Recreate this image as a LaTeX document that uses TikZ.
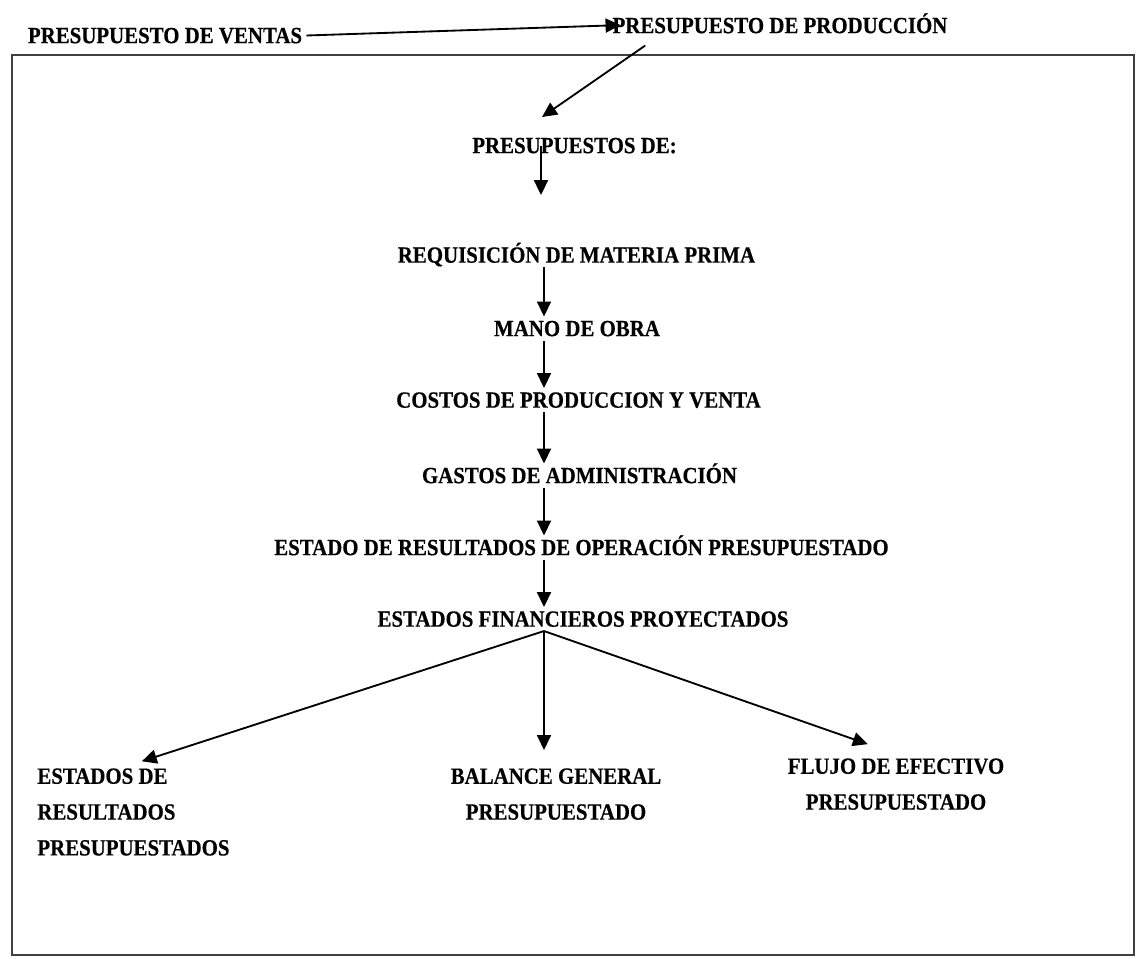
\documentclass[tikz,border=0pt]{standalone}
\usepackage{fontspec}
\setmainfont{Liberation Serif}[FakeStretch=0.9,BoldFeatures={FakeBold=0.4}]
\usetikzlibrary{
	calc,
	arrows.meta,
	positioning
	}
\tikzset{font={\fontsize{13.2pt}{15}\selectfont\bfseries}}
\tikzstyle{texto-std}=[inner sep=2.3pt,text height=8.7pt,text depth=0pt]
\tikzstyle{texto-multi}=[inner sep=2.3pt,font={\fontsize{13.2pt}{20.4}\selectfont\bfseries}]
\tikzstyle{flecha-std}=[line width=1.05pt,-{Triangle[length=8.5pt,width=8pt]}]
\tikzstyle{marco-std}=[draw=black!75,line width=0.8pt]

\begin{document}
\begin{tikzpicture}[x=0.02cm,y=-0.02cm]
        \useasboundingbox (0,0) rectangle (1137,958);
        \draw[marco-std] (12,55) rectangle (1134,955);
        %
        \node[texto-std] (p-ventas) at (165,35.5) {PRESUPUESTO DE VENTAS};
        \node[texto-std] (p-prod) at (780,25.5) {PRESUPUESTO DE PRODUCCIÓN};
        \node[texto-std] (p-des) at (574.5,145.5) {PRESUPUESTOS DE:};
        \node[texto-std] (req) at (576.5,255) {REQUISICIÓN DE MATERIA PRIMA};
        \node[texto-std] (mano) at (577,328.5) {MANO DE OBRA};
        \node[texto-std] (costos) at (578.5,400) {COSTOS DE PRODUCCION Y VENTA};
        \node[texto-std] (gastos) at (579.5,475.5) {GASTOS DE ADMINISTRACIÓN};
        \node[texto-std] (er-op) at (581.5,547.5) {ESTADO DE RESULTADOS DE OPERACIÓN PRESUPUESTADO};
        \node[texto-std] (ef) at (583,619) {ESTADOS FINANCIEROS PROYECTADOS};

        \node[texto-multi, anchor=north west, align=left] (ef-er) at (33,764) {ESTADOS DE\\RESULTADOS\\PRESUPUESTADOS};
        \node[texto-multi, anchor=north, align=center] (ef-bg) at (556,764) {BALANCE GENERAL\\PRESUPUESTADO};
        \node[texto-multi, anchor=north, align=center] (ef-fe) at (896,754) {FLUJO DE EFECTIVO\\PRESUPUESTADO};

        \coordinate (eje) at (544,0);
        \coordinate (c-des) at (542,117);
        \coordinate (c-req) at (541,195);

        \draw[flecha-std, shorten >=-7pt] (p-ventas.east) -- (p-prod.west);
        \draw[flecha-std] ($(p-prod.south west)+(37,8)$) -- (c-des);
        \draw[flecha-std] (p-des.center -| c-req) -- (c-req);

        \draw[flecha-std] (req.south -| eje) -- (mano.north -| eje);
        \draw[flecha-std] (mano.south -| eje) -- (costos.north -| eje);
        \draw[flecha-std] (costos.south -| eje) -- (gastos.north -| eje);
        \draw[flecha-std] (gastos.south -| eje) -- (er-op.north -| eje);
        \draw[flecha-std] (er-op.south -| eje) -- (ef.north -| eje);

        \draw[flecha-std, shorten >=5pt] (ef.south -| eje) -- (ef-er.north);
        \draw[flecha-std, shorten >=8pt] (ef.south -| eje) -- (ef-bg.north -| eje);
        \draw[flecha-std, shorten >=17pt] (ef.south -| eje) -- (ef-fe.north);
    \end{tikzpicture}
\end{document}
